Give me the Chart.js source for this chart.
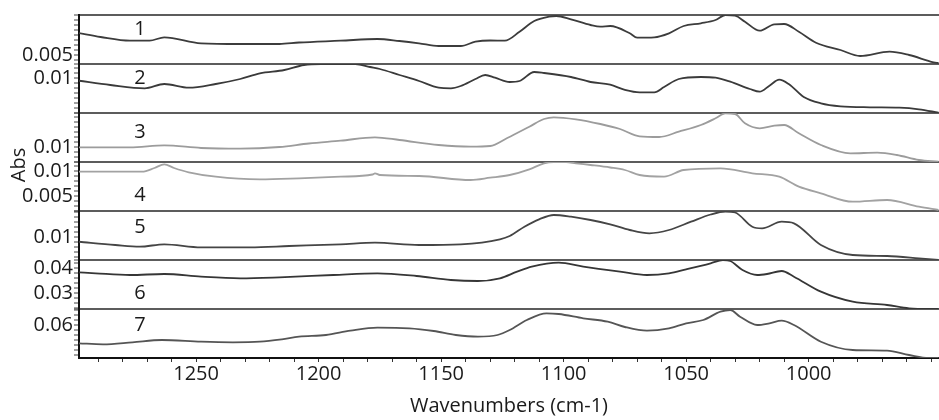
<!DOCTYPE html>
<html>
<head>
<meta charset="utf-8">
<title>Stacked IR spectra</title>
<script src="https://cdn.jsdelivr.net/npm/chart.js@4.4.1/dist/chart.umd.min.js"></script>
<style>
    html, body { margin: 0; padding: 0; background: #fff; }
    #wrap { width: 939px; height: 420px; }
</style>
</head>
<body>
<div id="wrap"><canvas id="spectra" width="939" height="420"></canvas></div>
<script>
// Spectra: wavenumbers (cm-1) and absorbance per trace
const wn1 = [1298, 1289, 1277, 1269, 1263, 1248, 1232, 1216, 1208, 1191, 1176, 1167, 1159, 1151, 1142, 1136, 1130, 1124, 1118, 1112, 1106, 1103, 1097, 1089, 1085, 1081, 1073, 1070, 1063, 1057, 1051, 1044, 1038, 1034, 1030, 1026, 1020, 1014, 1010, 1004, 997, 987, 979, 967, 959, 949, 947];
const abs1 = [0.0072, 0.0068, 0.00643, 0.00643, 0.00677, 0.00617, 0.0061, 0.0061, 0.00625, 0.00643, 0.0066, 0.0064, 0.00617, 0.0059, 0.0059, 0.00633, 0.00645, 0.00643, 0.00733, 0.0084, 0.00883, 0.0089, 0.00857, 0.008, 0.00783, 0.0079, 0.00717, 0.00673, 0.00677, 0.00717, 0.0079, 0.00817, 0.0085, 0.009, 0.00893, 0.00833, 0.00743, 0.00807, 0.0081, 0.00733, 0.00623, 0.0055, 0.0049, 0.00533, 0.005, 0.00427, 0.0042];

const wn2 = [1298, 1285, 1271, 1263, 1253, 1242, 1232, 1224, 1214, 1206, 1199, 1185, 1179, 1175, 1167, 1159, 1151, 1146, 1142, 1136, 1132, 1128, 1122, 1118, 1112, 1108, 1097, 1089, 1081, 1075, 1069, 1063, 1059, 1053, 1044, 1038, 1032, 1024, 1020, 1016, 1012, 1008, 1002, 995, 987, 975, 963, 955, 947];
const abs2 = [0.00973, 0.0093, 0.00897, 0.0094, 0.00903, 0.0094, 0.0099, 0.01047, 0.0108, 0.0113, 0.0114, 0.0114, 0.0111, 0.0109, 0.0103, 0.0097, 0.00903, 0.00897, 0.0092, 0.0099, 0.0103, 0.01003, 0.0096, 0.0097, 0.0106, 0.0105, 0.0101, 0.0096, 0.00933, 0.00882, 0.00857, 0.00857, 0.0091, 0.0099, 0.0101, 0.01003, 0.00963, 0.0089, 0.00863, 0.00923, 0.00983, 0.00937, 0.0081, 0.00747, 0.00717, 0.00707, 0.00703, 0.00687, 0.00653];

const wn3 = [1298, 1277, 1263, 1248, 1232, 1216, 1204, 1191, 1177, 1167, 1151, 1138, 1130, 1123, 1114, 1108, 1104, 1095, 1085, 1077, 1069, 1061, 1053, 1044, 1038, 1034, 1030, 1026, 1020, 1014, 1010, 1004, 995, 983, 972, 964, 955, 947];
const abs3 = [0.00997, 0.00997, 0.01017, 0.0099, 0.00983, 0.01, 0.01035, 0.01063, 0.01097, 0.0107, 0.0102, 0.01003, 0.0101, 0.0109, 0.01203, 0.0128, 0.01297, 0.01277, 0.0123, 0.0118, 0.01107, 0.011, 0.01153, 0.0122, 0.01287, 0.01337, 0.0133, 0.01237, 0.01187, 0.01213, 0.0122, 0.01137, 0.0102, 0.00937, 0.00943, 0.0092, 0.0087, 0.00853];

const wn4 = [1298, 1272, 1267, 1263, 1259, 1253, 1242, 1224, 1208, 1191, 1178, 1177, 1175, 1159, 1138, 1130, 1122, 1114, 1108, 1104, 1099, 1095, 1089, 1081, 1075, 1069, 1059, 1051, 1036, 1023, 1012, 1004, 995, 982, 968, 955, 947];
const abs4 = [0.00986, 0.00986, 0.0106, 0.01134, 0.0106, 0.00974, 0.00886, 0.00834, 0.00854, 0.00886, 0.0093, 0.00954, 0.0092, 0.009, 0.0082, 0.00866, 0.0092, 0.01034, 0.01154, 0.0118, 0.0118, 0.01154, 0.0112, 0.0107, 0.0102, 0.0092, 0.00886, 0.0102, 0.01054, 0.00954, 0.00886, 0.00686, 0.00554, 0.00386, 0.0042, 0.00286, 0.0022];

const wn5 = [1298, 1283, 1273, 1263, 1248, 1228, 1212, 1191, 1177, 1159, 1142, 1126, 1122, 1116, 1110, 1104, 1097, 1089, 1081, 1073, 1065, 1057, 1048, 1040, 1034, 1030, 1023, 1019, 1011, 1006, 995, 982, 968, 955, 947];
const abs5 = [0.00953, 0.0092, 0.00903, 0.00927, 0.00897, 0.00897, 0.0091, 0.00927, 0.00943, 0.0092, 0.00927, 0.00977, 0.0101, 0.01103, 0.01177, 0.0122, 0.01203, 0.0117, 0.01127, 0.0107, 0.01037, 0.0107, 0.01153, 0.01225, 0.01255, 0.01245, 0.01103, 0.01087, 0.01153, 0.01137, 0.0092, 0.0082, 0.0081, 0.00787, 0.0077];

const wn6 = [1298, 1291, 1277, 1263, 1248, 1232, 1216, 1194, 1176, 1160, 1146, 1135, 1126, 1119, 1113, 1102, 1092, 1077, 1066, 1057, 1050, 1040, 1035, 1032, 1027, 1021, 1017, 1011, 1006, 995, 982, 968, 959, 947];
const abs6 = [0.03828, 0.03788, 0.0372, 0.0376, 0.03652, 0.03588, 0.03628, 0.0372, 0.03788, 0.0368, 0.0352, 0.0348, 0.03588, 0.03852, 0.04052, 0.04212, 0.04052, 0.03852, 0.0372, 0.03788, 0.03948, 0.04188, 0.0432, 0.0428, 0.0392, 0.0372, 0.0376, 0.0388, 0.03652, 0.03052, 0.02652, 0.0252, 0.02388, 0.0236];

const wn7 = [1298, 1288, 1276, 1264, 1248, 1235, 1224, 1215, 1208, 1197, 1187, 1176, 1163, 1153, 1144, 1135, 1127, 1122, 1115, 1107, 1102, 1092, 1082, 1075, 1066, 1057, 1050, 1043, 1036, 1032, 1028, 1021, 1016, 1011, 1006, 995, 982, 968, 959, 951, 947];
const abs7 = [0.05268, 0.05228, 0.05308, 0.054, 0.05332, 0.05308, 0.05332, 0.05428, 0.05532, 0.056, 0.05772, 0.05892, 0.05868, 0.0576, 0.056, 0.05532, 0.056, 0.058, 0.062, 0.06468, 0.0644, 0.06268, 0.06132, 0.0592, 0.05772, 0.05868, 0.06068, 0.062, 0.06532, 0.066, 0.06332, 0.06, 0.06068, 0.06172, 0.06, 0.05332, 0.05, 0.04972, 0.048, 0.0468, 0.0468];

// Panels, top to bottom
const panelNames = ['1', '2', '3', '4', '5', '6', '7'];
const panelMin = [0.0041, 0.0065, 0.0085, 0.0020, 0.0077, 0.0236, 0.0468];
const panelMax = [0.0090, 0.0114, 0.0134, 0.0118, 0.0126, 0.0432, 0.0664];
const panelTicks = [[0.005], [0.01], [0.01], [0.01, 0.005], [0.01], [0.04, 0.03], [0.06]];
const panelMinor = [0.0005, 0.0005, 0.0005, 0.001, 0.0005, 0.002, 0.002];

const xTicks = [1250, 1200, 1150, 1100, 1050, 1000];
const xMin = 946.8;
const xMax = 1297.8;

const wns = [wn1, wn2, wn3, wn4, wn5, wn6, wn7];
const absValues = [abs1, abs2, abs3, abs4, abs5, abs6, abs7];
const lineColors = ['#3c3c3c', '#3a3a3a', '#9c9c9c', '#a2a2a2', '#454545', '#363636', '#555555'];

const FONT = "'Open Sans', sans-serif";
const TEXT = '#1a1a1a';
Chart.defaults.font.family = FONT;
Chart.defaults.font.size = 20;
Chart.defaults.color = TEXT;

const near = (a, b) => Math.abs(a - b) < 1e-9;

const datasets = absValues.map((vals, i) => ({
    label: panelNames[i],
    data: vals.map((v, j) => ({ x: wns[i][j], y: v })),
    yAxisID: 'y' + (i + 1),
    borderColor: lineColors[i],
    borderWidth: 1.8,
    pointRadius: 0,
    cubicInterpolationMode: 'monotone',
    fill: false
}));

const scales = {
    x: {
        type: 'linear',
        reverse: true,
        min: xMin,
        max: xMax,
        afterBuildTicks: scale => {
            const t = [];
            for (let w = Math.ceil(xMin / 10) * 10; w <= xMax; w += 10) t.push({ value: w });
            scale.ticks = t;
        },
        afterFit: scale => { scale.height = 62; },
        border: { display: true, color: '#111111', width: 2 },
        grid: { drawOnChartArea: false, tickLength: 4, tickColor: '#333333', tickWidth: 1 },
        ticks: {
            autoSkip: false,
            maxRotation: 0,
            padding: 0,
            callback: v => xTicks.includes(v) ? String(v) : ''
        },
        title: {
            display: true,
            text: 'Wavenumbers (cm-1)',
            color: TEXT,
            padding: { top: 0, bottom: 2 }
        }
    }
};

// later stacked left axes are placed higher, so add the bottom panel first
for (let i = panelNames.length - 1; i >= 0; i--) {
    const lo = panelMin[i], hi = panelMax[i], step = panelMinor[i], majors = panelTicks[i];
    scales['y' + (i + 1)] = {
        type: 'linear',
        position: 'left',
        stack: 'abs',
        stackWeight: 1,
        min: lo,
        max: hi,
        afterBuildTicks: scale => {
            const t = [];
            for (let k = Math.ceil(lo / step - 1e-6); k * step <= hi + 1e-9; k++) {
                t.push({ value: +(k * step).toFixed(6) });
            }
            if (!near(t[t.length - 1].value, hi)) t.push({ value: hi });
            scale.ticks = t;
        },
        afterFit: scale => { scale.width = 79; },
        border: { display: true, color: '#111111', width: 2 },
        grid: {
            drawOnChartArea: true,
            lineWidth: 2,
            color: c => (c.tick && near(c.tick.value, hi)) ? '#5c5c5c' : 'rgba(0,0,0,0)',
            tickColor: '#444444',
            tickWidth: 1,
            tickLength: 5
        },
        ticks: {
            autoSkip: false,
            padding: 1,
            callback: v => {
                const m = majors.find(mv => near(mv, v));
                return m === undefined ? '' : String(m);
            }
        }
    };
}

// panel numbers and the shared "Abs" title
const panelText = {
    id: 'panelText',
    afterDraw(chart, args, opts) {
        const ctx = chart.ctx;
        ctx.save();
        ctx.fillStyle = TEXT;
        ctx.font = '20px ' + FONT;
        ctx.textAlign = 'center';
        ctx.textBaseline = 'middle';
        panelNames.forEach((name, i) => {
            const s = chart.scales['y' + (i + 1)];
            ctx.fillText(name, chart.chartArea.left + opts.dx, s.top + opts.dy[i]);
        });
        ctx.translate(opts.absX, opts.absY);
        ctx.rotate(-Math.PI / 2);
        ctx.fillText('Abs', 0, 0);
        ctx.restore();
    }
};

new Chart(document.getElementById('spectra'), {
    type: 'line',
    data: { datasets },
    options: {
        responsive: false,
        animation: false,
        events: [],
        layout: { padding: { top: 15, right: 0, bottom: 0, left: 0 } },
        scales,
        plugins: {
            legend: { display: false },
            tooltip: { enabled: false },
            panelText: { dx: 61, dy: [14, 14, 19, 33, 16, 33, 16], absX: 19, absY: 165 }
        }
    },
    plugins: [panelText]
});
</script>
</body>
</html>
